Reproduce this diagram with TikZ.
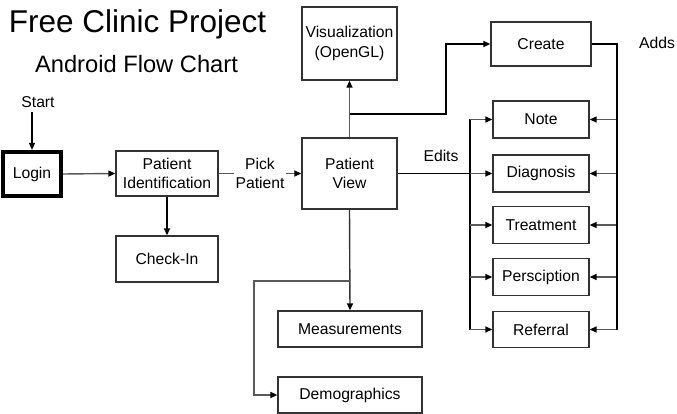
\documentclass[tikz,border=0pt]{standalone}
\usepackage{fontspec}
\setmainfont{Liberation Sans}
\usetikzlibrary{arrows.meta,positioning}
\begin{document}
\begin{tikzpicture}[x=1pt,y=-1pt,
  box/.style={draw=black!80,line width=1.3pt,fill=white,inner sep=0pt,align=center,
    font=\fontsize{15.7}{19.5}\selectfont},
  lbl/.style={inner sep=0pt,align=center,font=\fontsize{15.7}{19.5}\selectfont},
  conn/.style={draw=black!65,line width=1.4pt},
  arr/.style={conn,-{Triangle[length=7pt,width=6pt,color=black]}},
  bold/.style={draw=black,line width=1.5pt}]
\useasboundingbox[fill=white] (0,0) rectangle (677,414);
% titles
\node[anchor=base,font=\fontsize{31.5}{36}\selectfont] (title) at (137.5,33) {Free Clinic Project};
\node[anchor=base,font=\fontsize{23.7}{28}\selectfont] (sub) at (136.5,73) {Android Flow Chart};
% nodes
\node[lbl] (start) at (38,102) {Start};
\node[box,draw=black,line width=4.2pt,minimum width=58pt,minimum height=44pt] (login) at (32,174) {Login};
\node[box,minimum width=102pt,minimum height=45pt] (pi) at (167,173.5) {Patient\\Identification};
\node[box,minimum width=102pt,minimum height=46pt] (ci) at (167,259) {Check-In};
\node[box,minimum width=95pt,minimum height=71pt] (pv) at (349.5,173.5) {Patient\\View};
\node[box,minimum width=95pt,minimum height=73pt] (vis) at (349.5,43.5) {Visualization\\(OpenGL)};
\node[box,minimum width=100pt,minimum height=44pt] (create) at (541,44) {Create};
\node[box,minimum width=96pt,minimum height=37pt] (note) at (541,119.5) {Note};
\node[box,minimum width=96pt,minimum height=37pt] (diag) at (541,173.5) {Diagnosis};
\node[box,minimum width=96pt,minimum height=37pt] (treat) at (541,225) {Treatment};
\node[box,minimum width=96pt,minimum height=37pt] (pers) at (541,277) {Persciption};
\node[box,minimum width=96pt,minimum height=36pt] (ref) at (541,329.5) {Referral};
\node[box,minimum width=144pt,minimum height=36pt] (meas) at (350,329) {Measurements};
\node[box,minimum width=144pt,minimum height=36pt] (demo) at (350,395) {Demographics};
\node[lbl] (edits) at (441,156) {Edits};
\node[lbl] (adds) at (657,43) {Adds};
% helper coordinates
\coordinate (j1) at (349.5,114);
\coordinate (bx) at (446,114);
\coordinate (eb) at (470,0);
\coordinate (ab) at (617,0);
\coordinate (j2) at (349.5,281);
\coordinate (dk) at (254,395);
% connectors
\draw[arr,draw=black] (login.north |- start.south) ++(0,4) -- (login.north);
\draw[arr] (login.east) -- (pi.west);
\draw[arr,draw=black] (pi.south) -- (ci.north);
\draw[arr] (pi.east) -- node[lbl,fill=white,inner xsep=2pt] (pick) {Pick\\Patient} (pv.west);
\draw[arr] (pv.north) -- (vis.south);
\draw[arr,draw=black,line width=1.3pt] (j1) -- (bx) |- (create.west);
\draw[bold] (pv.east) -- (pv.east -| eb);
\draw[conn,draw=black,line width=1.3pt] (eb |- note) -- (eb |- ref);
\foreach \n in {note,diag,treat,pers,ref}{
  \draw[arr] (eb |- \n) -- (\n.west);
  \draw[arr] (ab |- \n) -- (\n.east);
}
\draw[bold] (create.east) -| (ab |- ref);
\draw[arr,draw=black!80] (pv.south) -- (meas.north);
\draw[arr] (j2) -| (dk) -- (demo.west);
\end{tikzpicture}
\end{document}
